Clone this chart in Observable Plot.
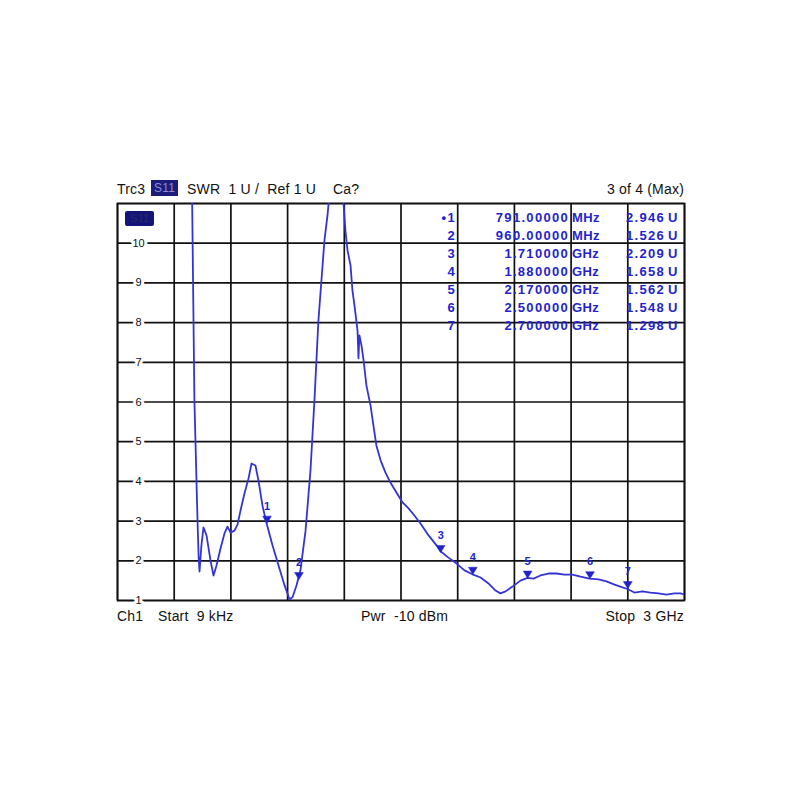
<!DOCTYPE html>
<html>
<head>
<meta charset="utf-8">
<script src="https://cdn.jsdelivr.net/npm/d3@7"></script>
<script src="https://cdn.jsdelivr.net/npm/@observablehq/plot@0.6"></script>
<style>
  body { margin: 0; background: #fff; font-family: "Liberation Sans", Arial, sans-serif; }
  #wrap { position: relative; width: 800px; height: 800px; }
  #chart { position: absolute; left: 0; top: 0; }
  .t { position: absolute; font-size: 14px; color: #111; white-space: pre; line-height: 1; letter-spacing: 0.2px; }
  .mk { position: absolute; font-size: 13px; color: #2424cc; white-space: pre; line-height: 1; font-weight: bold; letter-spacing: 1.3px; }
</style>
</head>
<body>
<div id="wrap"><div id="chart"></div></div>
<script>
// ---- data ----
const freqGHz = [0.389,0.407,0.423,0.429,0.434,0.444,0.455,0.471,0.492,0.508,0.524,0.545,0.566,0.582,0.598,0.619,0.635,0.651,0.672,0.693,0.709,0.730,0.746,0.767,0.788,0.820,0.852,0.884,0.910,0.926,0.947,0.968,0.995,1.021,1.042,1.063,1.079,1.095,1.111,1.127,1.160,1.196,1.206,1.217,1.233,1.243,1.254,1.270,1.275,1.280,1.291,1.302,1.317,1.328,1.339,1.354,1.370,1.392,1.418,1.444,1.476,1.508,1.540,1.571,1.603,1.646,1.688,1.709,1.751,1.794,1.836,1.878,1.921,1.963,2.000,2.026,2.053,2.090,2.132,2.169,2.201,2.238,2.280,2.323,2.365,2.407,2.450,2.497,2.545,2.587,2.630,2.672,2.698,2.735,2.778,2.820,2.862,2.905,2.947,2.979,3.000];
const swr = [13.5,6.04,3.07,2.13,1.73,2.39,2.84,2.64,2.01,1.63,1.88,2.31,2.69,2.86,2.71,2.76,2.91,3.27,3.70,4.07,4.45,4.40,4.02,3.39,2.96,2.39,1.88,1.38,1.03,1.08,1.38,1.76,2.76,4.27,6.04,8.05,9.06,10.07,10.70,11.5,13.0,11.0,10.32,9.82,9.44,8.81,8.43,7.80,7.10,7.68,7.42,7.05,6.42,6.16,5.91,5.41,4.90,4.53,4.22,3.97,3.72,3.47,3.32,3.14,2.94,2.64,2.39,2.24,2.08,1.93,1.76,1.66,1.58,1.43,1.25,1.18,1.23,1.35,1.50,1.57,1.55,1.63,1.68,1.68,1.65,1.65,1.60,1.55,1.53,1.48,1.40,1.33,1.29,1.20,1.23,1.20,1.18,1.15,1.18,1.18,1.15];

const markerIds = ["1","2","3","4","5","6","7"];
const markerFreq = [0.791, 0.960, 1.710, 1.880, 2.170, 2.500, 2.700];
const markerSwr = [2.946, 1.526, 2.209, 1.658, 1.562, 1.548, 1.298];
const markerFreqText = ["791.00000","960.00000","1.710000","1.880000","2.170000","2.500000","2.700000"];
const markerUnit = ["MHz","MHz","GHz","GHz","GHz","GHz","GHz"];
const markerValText = ["2.946","1.526","2.209","1.658","1.562","1.548","1.298"];

const xGrid = [0, 0.3, 0.6, 0.9, 1.2, 1.5, 1.8, 2.1, 2.4, 2.7, 3.0];
const yGrid = [1,2,3,4,5,6,7,8,9,10,11];
const yTickLabels = [1,2,3,4,5,6,7,8,9,10];

// ---- build ----
const trace = freqGHz.map((f, i) => ({f, v: swr[i]}));
const markers = markerIds.map((id, i) => ({id, f: markerFreq[i], v: markerSwr[i]}));

const triDown = {
  draw(ctx, size) {
    const s = Math.sqrt(size);
    const w = s * 0.62, h = s * 1.0;
    ctx.moveTo(0, 0);
    ctx.lineTo(-w, -h);
    ctx.lineTo(w, -h);
    ctx.closePath();
  }
};

const blue = "#3434d6";
const mkBlue = "#2222cc";

const chart = Plot.plot({
  width: 800,
  height: 800,
  marginLeft: 117,
  marginRight: 116,
  marginTop: 203,
  marginBottom: 200,
  x: {domain: [0, 3], axis: null},
  y: {domain: [1, 11], axis: null},
  style: {background: "white", fontFamily: "Liberation Sans, Arial, sans-serif"},
  marks: [
    Plot.ruleX(xGrid, {x: d => d, stroke: "#111", strokeWidth: 1.7}),
    Plot.ruleY(yGrid, {y: d => d, stroke: "#111", strokeWidth: 1.7}),
    Plot.frame({stroke: "#111", strokeWidth: 1.7}),
    Plot.text(yTickLabels, {x: 0, y: d => d, text: d => String(d), dx: 21, fill: "#111", stroke: "white", strokeWidth: 6, fontSize: 11, textAnchor: "middle"}),
    Plot.line(trace, {x: "f", y: "v", stroke: blue, strokeWidth: 1.8, clip: true, curve: "linear"}),
    Plot.dot(markers, {x: "f", y: "v", symbol: triDown, r: 4, fill: mkBlue, stroke: mkBlue, strokeWidth: 0.5}),
    Plot.text(markers, {x: "f", y: "v", text: "id", dy: -17, fill: mkBlue, fontSize: 11, fontWeight: "bold"})
  ]
});
document.getElementById("chart").appendChild(chart);

// ---- overlay texts (header, footer, marker table) ----
const wrap = document.getElementById("wrap");
function addText(cls, txt, left, top, opts = {}) {
  const d = document.createElement("div");
  d.className = cls;
  d.textContent = txt;
  if (opts.right != null) { d.style.right = opts.right + "px"; } else { d.style.left = left + "px"; }
  d.style.top = top + "px";
  if (opts.style) Object.assign(d.style, opts.style);
  wrap.appendChild(d);
  return d;
}
// header
addText("t", "Trc3", 117, 182);
addText("t", "S11", 151, 180, {style: {background: "#1c1c7c", color: "#8c8cd8", padding: "2px 3px 2px 3px", fontSize: "12px"}});
addText("t", "SWR  1 U /  Ref 1 U", 187, 182);
addText("t", "Ca?", 333, 182);
addText("t", "3 of 4 (Max)", 0, 182, {right: 116});
// S11 box inside plot
addText("t", "S11", 125, 211, {style: {background: "#14147a", color: "#2a2a60", padding: "2px 5px", fontSize: "11px", borderRadius: "2px"}});
// footer
addText("t", "Ch1", 117, 609);
addText("t", "Start  9 kHz", 158, 609);
addText("t", "Pwr  -10 dBm", 361, 609);
addText("t", "Stop  3 GHz", 0, 609, {right: 116});
// marker table
markerIds.forEach((id, i) => {
  const top = 211 + i * 18;
  addText("mk", (i === 0 ? "\u2022" : "") + id, 0, top, {right: 800 - 456});
  addText("mk", markerFreqText[i], 0, top, {right: 800 - 569});
  addText("mk", markerUnit[i], 572, top, {style: {letterSpacing: "0.4px"}});
  addText("mk", markerValText[i], 0, top, {right: 800 - 665});
  addText("mk", "U", 668, top);
});
</script>
</body>
</html>
